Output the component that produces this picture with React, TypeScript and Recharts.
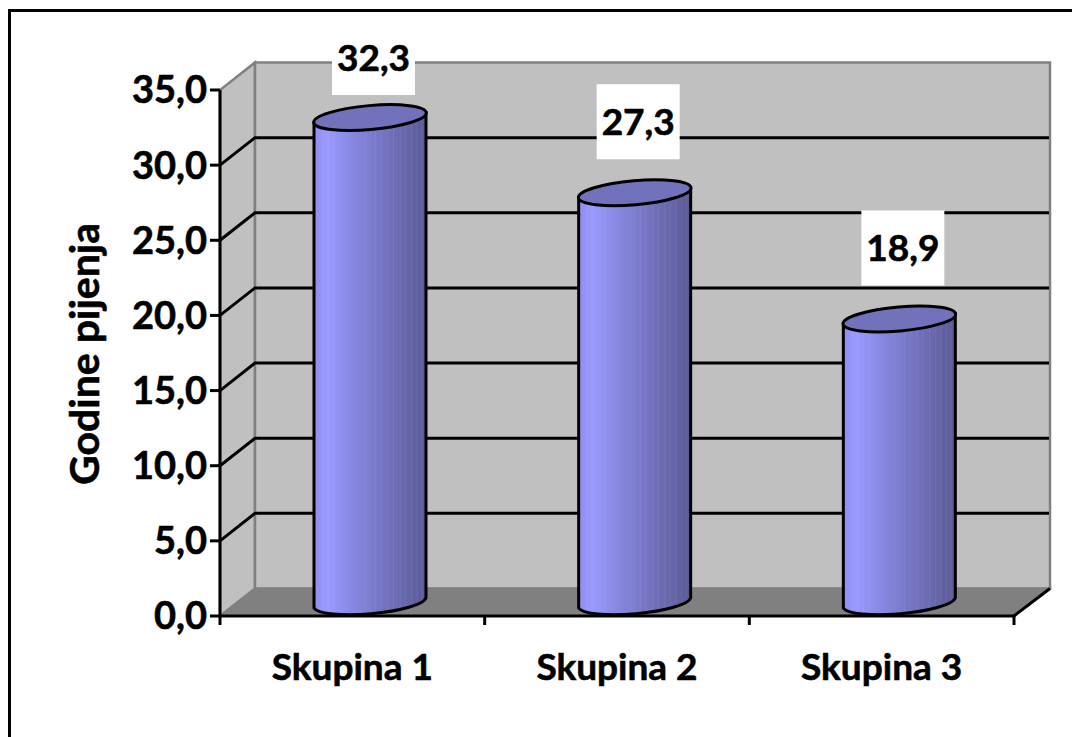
import React from "react";
import { BarChart, Bar, XAxis, YAxis, CartesianGrid, LabelList } from "recharts";

const categories = ["Skupina 1", "Skupina 2", "Skupina 3"];
const values = [32.3, 27.3, 18.9];
const yTicks = [0, 5, 10, 15, 20, 25, 30, 35];
const rows = categories.map((name, i) => ({ name, value: values[i] }));

const FONT = "Lato, 'Open Sans', sans-serif";
const FS = 37;
const HEAVY = { stroke: "#000", strokeWidth: 0.6 };
const L = 220, R = 1014, T = 90, B = 616;
const DX = 35, DY = 27.5;
const fmt = (v: number) => v.toFixed(1).replace(".", ",");

const stripes = [0.08, 0.13, 0.18, 0.23, 0.46, 0.5, 0.55, 0.6, 0.66, 0.71, 0.77, 0.82, 0.87, 0.92, 0.96];

function wallLine(p: any) {
  if (p.y1 > T + 1) return <g key={p.key} />;
  return (
    <g key={p.key}>
      <polygon points={`${L},${B} ${L},${T} ${L + DX},${T - DY} ${L + DX},${B - DY}`} fill="#c0c0c0" stroke="#808080" strokeWidth={2.5} />
      <polygon points={`${L + DX},${T - DY} ${R + DX + 1},${T - DY} ${R + DX + 1},${B - DY} ${L + DX},${B - DY}`} fill="#c0c0c0" stroke="#808080" strokeWidth={2.5} />
      <polygon points={`${L},${B} ${L + DX},${B - DY} ${R + DX + 1},${B - DY} ${R},${B}`} fill="#808080" stroke="#808080" strokeWidth={1.5} />
      <line x1={R} y1={B} x2={R + DX + 1} y2={B - DY} stroke="#000" strokeWidth={3} />
    </g>
  );
}

function gridLine(p: any) {
  const y = p.y1;
  if (y <= T + 1 || y >= B - 1) return <g key={p.key} />;
  return (
    <polyline
      key={p.key}
      points={`${L},${y} ${L + DX},${y - DY} ${R + DX},${y - DY}`}
      fill="none"
      stroke="#000"
      strokeWidth={3}
    />
  );
}

function Cylinder(p: any) {
  const { x, y, width, height } = p;
  const dx = 18, dy = -13;
  const lx = x + dx, rx = x + width + dx;
  const cx = (lx + rx) / 2;
  const top = y + dy;
  const base = y + height + dy;
  const a = 56.5, b = 12, rot = -5, t = 5;
  const body = `M${lx},${top + t} L${lx},${base + t} A${a},${b} ${rot} 0 0 ${rx},${base - t} L${rx},${top - t} Z`;
  const cid = `clip-${p.index}`;
  return (
    <g>
      <clipPath id={cid}><path d={body} /></clipPath>
      <path d={body} fill="url(#cylFill)" />
      <g clipPath={`url(#${cid})`}>
        {stripes.map((s) => (
          <line key={s} x1={lx + s * width} x2={lx + s * width} y1={top - 20} y2={base + 20} stroke="#fff" strokeOpacity={0.07} strokeWidth={1} />
        ))}
      </g>
      <path d={body} fill="none" stroke="#000" strokeWidth={3} />
      <ellipse cx={cx} cy={top} rx={a} ry={b} transform={`rotate(${rot} ${cx} ${top})`} fill="#7272bc" stroke="#000" strokeWidth={3} />
    </g>
  );
}

function ValueLabel(p: any) {
  const { x, y, width, value } = p;
  const cx = x + width / 2 + 21.5;
  const cy = Math.max(y - 84, 57.5);
  return (
    <g>
      <rect x={cx - 41.5} y={cy - 37.5} width={83} height={75} fill="#fff" />
      <text x={cx} y={cy - 1} textAnchor="middle" dominantBaseline="central" fontFamily={FONT} fontWeight={700} fontSize={FS} fill="#000" {...HEAVY}>
        {fmt(value)}
      </text>
    </g>
  );
}

function XTick(p: any) {
  const { x, payload, index } = p;
  const band = (R - L) / categories.length;
  return (
    <g>
      <line x1={x - band / 2} x2={x - band / 2} y1={B} y2={B + 9} stroke="#000" strokeWidth={3} />
      {index === categories.length - 1 && (
        <line x1={x + band / 2} x2={x + band / 2} y1={B} y2={B + 9} stroke="#000" strokeWidth={3} />
      )}
      <text x={x} y={665} textAnchor="middle" dominantBaseline="central" fontFamily={FONT} fontWeight={700} fontSize={FS} fill="#000" {...HEAVY}>
        {payload.value}
      </text>
    </g>
  );
}

function YTitle() {
  return (
    <text
      x={83}
      y={354}
      transform="rotate(-90 83 354)"
      textAnchor="middle"
      dominantBaseline="central"
      fontFamily={FONT}
      fontWeight={700}
      fontSize={41}
      fill="#000"
      {...HEAVY}
    >
      Godine pijenja
    </text>
  );
}

export default function App() {
  return (
    <div style={{ position: "absolute", left: 0, top: 0, width: 1072, height: 737, overflow: "hidden", background: "#fff" }}>
      <div style={{ position: "absolute", left: 8, top: 9, width: 1100, height: 800, borderLeft: "3px solid #000", borderTop: "3px solid #000" }} />
      <div style={{ position: "absolute", left: 0, top: 0 }}>
        <BarChart
          width={1072}
          height={737}
          data={rows}
          margin={{ left: 0, top: T, right: 1072 - R, bottom: 0 }}
        >
          <defs>
            <linearGradient id="cylFill" x1="0" x2="1" y1="0" y2="0">
              <stop offset="0" stopColor="#8f8ff0" />
              <stop offset="0.12" stopColor="#9999ff" />
              <stop offset="0.5" stopColor="#7c7ccf" />
              <stop offset="1" stopColor="#5a5a96" />
            </linearGradient>
          </defs>
          <CartesianGrid horizontal={wallLine} vertical={false} syncWithTicks />
          <CartesianGrid horizontal={gridLine} vertical={false} syncWithTicks />
          <XAxis
            dataKey="name"
            height={737 - B}
            interval={0}
            axisLine={{ stroke: "#000", strokeWidth: 3 }}
            tickLine={false}
            tick={XTick}
          />
          <YAxis
            width={L}
            domain={[0, 35]}
            ticks={yTicks}
            interval={0}
            tickFormatter={fmt}
            axisLine={{ stroke: "#000", strokeWidth: 3 }}
            tickLine={{ stroke: "#000", strokeWidth: 3 }}
            tickSize={10}
            tickMargin={3}
            tick={{ fontFamily: FONT, fontWeight: 700, fontSize: 38, fill: "#000", ...HEAVY }}
            label={<YTitle />}
          />
          <Bar dataKey="value" barSize={112} shape={Cylinder} isAnimationActive={false}>
            <LabelList dataKey="value" content={ValueLabel} />
          </Bar>
        </BarChart>
      </div>
    </div>
  );
}
